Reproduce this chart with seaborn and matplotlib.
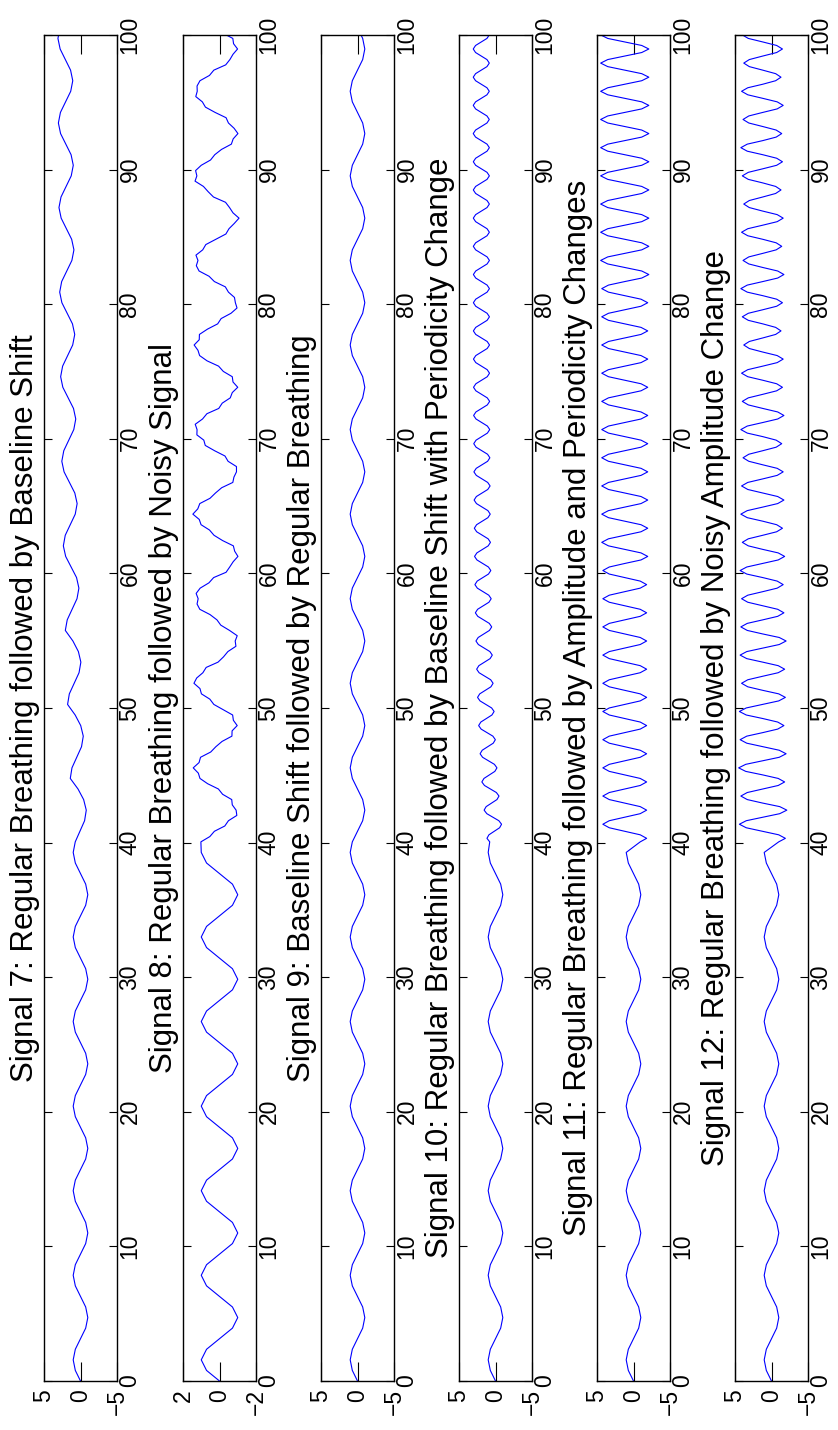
import numpy as np
import pandas as pd
import seaborn as sns
import matplotlib.pyplot as plt

# sample spacing of the readings (time units)
slow_step = 0.7854    # 8 readings per slow breath
noisy_step = 0.3927   # 16 readings per slow breath
fast_step = 0.2618    # 8 readings per fast breath
switch_t = 40.055     # where the second part of every signal starts

titles = [
    "Signal 7: Regular Breathing followed by Baseline Shift",
    "Signal 8: Regular Breathing followed by Noisy Signal",
    "Signal 9: Baseline Shift followed by Regular Breathing",
    "Signal 10: Regular Breathing followed by Baseline Shift with Periodicity Change",
    "Signal 11: Regular Breathing followed by Amplitude and Periodicity Changes",
    "Signal 12: Regular Breathing followed by Noisy Amplitude Change",
]
limits = [5, 2, 5, 5, 5, 5]
time_ticks = [0, 10, 20, 30, 40, 50, 60, 70, 80, 90, 100]

# first part (t = 0 .. 39.3), same for all six signals
regular = [
    0, 0.71, 1, 0.71, 0, -0.71, -1, -0.71,
    0, 0.71, 1, 0.71, 0, -0.71, -1, -0.71,
    0, 0.71, 1, 0.71, 0, -0.71, -1, -0.71,
    0, 0.71, 1, 0.71, 0, -0.71, -1, -0.71,
    0, 0.71, 1, 0.71, 0, -0.71, -1, -0.71,
    0, 0.71, 1, 0.71, 0, -0.71, -1, -0.71,
    0, 0.71, 1,
]

sig7_shift = [
    0.72, 0.08, -0.56, -0.79, -0.43, 0.34, 1.40, 1.17,
    0.52, -0.14, -0.38, -0.03, 0.73, 1.77, 1.53, 0.87,
    0.20, -0.05, 0.29, 1.04, 2.08, 1.82, 1.15, 0.48,
    0.22, 0.54, 1.29, 2.03, 2.35, 2.09, 1.41, 0.72,
    0.46, 0.78, 1.51, 2.25, 2.56, 2.29, 1.60, 0.92,
    0.65, 0.96, 1.69, 2.42, 2.72, 2.45, 1.76, 1.07,
    0.79, 1.10, 1.82, 2.55, 2.85, 2.58, 1.88, 1.18,
    0.90, 1.21, 1.93, 2.65, 2.95, 2.67, 1.97, 1.27,
    0.99, 1.29, 2.01, 2.73, 3.03, 2.75, 2.05, 1.34,
    1.06, 1.36, 2.08, 2.79, 3.09, 2.81,
]

sig8_noisy = [
    1.02, 0.53, 0.28, -0.29, -0.49, -0.95, -0.91, -0.70, -0.67, -0.17,
    0.06, 0.65, 1.07, 1.16, 1.44, 1.12, 1.04, 0.48,
    0.20, -0.14, -0.68, -0.69, -0.97, -0.76, -0.72, -0.20,
    0.31, 0.53, 0.99, 1.07, 1.40, 1.25, 0.91, 0.73,
    0.08, -0.22, -0.46, -0.90, -0.86, -0.97, -0.55, -0.07,
    0.14, 0.52, 1.08, 1.23, 1.17, 1.28, 1.06, 0.58,
    0.32, -0.36, -0.56, -0.75, -1.01, -0.83, -0.76, -0.17,
    0.30, 0.55, 1.01, 1.11, 1.46, 1.19, 1.08, 0.52,
    0.22, -0.12, -0.73, -0.79, -0.93, -0.93, -0.47, -0.30,
    0.27, 0.78, 0.86, 1.24, 1.23, 1.33, 0.93, 0.69,
    0.04, -0.15, -0.59, -0.70, -1.00, -0.74, -0.70, -0.21,
    0.05, 0.68, 1.09, 1.18, 1.39, 1.11, 1.10, 0.66,
    0.10, -0.09, -0.63, -0.96, -0.87, -0.82, -0.49, -0.32,
    0.28, 0.57, 1.12, 1.27, 1.18, 1.29, 0.92, 0.75,
    0.20, -0.35, -0.52, -0.81, -1.07, -0.74, -0.55, -0.33,
    0.33, 0.62, 0.88, 1.34, 1.24, 1.31, 1.00, 0.49,
    0.26, -0.11, -0.65, -0.75, -1.01, -0.80, -0.49, -0.36,
    0.24, 0.77, 0.94, 1.30, 1.22, 1.23, 1.07, 0.55,
    0.31, -0.34, -0.57, -0.74, -0.99, -0.77, -0.73, -0.18,
]

sig9_rest = [
    0.71, 0, -0.71, -1, -0.71, 0, 0.71, 1,
    0.71, 0, -0.71, -1, -0.71, 0, 0.71, 1,
    0.71, 0, -0.71, -1, -0.71, 0, 0.71, 1,
    0.71, 0, -0.71, -1, -0.71, 0, 0.71, 1,
    0.71, 0, -0.71, -1, -0.71, 0, 0.71, 1,
    0.71, 0, -0.71, -1, -0.71, 0, 0.71, 1,
    0.71, 0, -0.71, -1, -0.71, 0, 0.71, 1,
    0.71, 0, -0.71, -1, -0.71, 0, 0.71, 1,
    0.71, 0, -0.71, -1, -0.71, 0, 0.71, 1,
    0.71, 0, -0.71, -1, -0.71, 0,
]

sig10_fast = [
    0.79, 1.17, 0.90, 0.17, -0.56, -0.83, -0.46, 0.37,
    1.19, 1.56, 1.28, 0.54, -0.20, -0.48, -0.12, 0.70,
    1.51, 1.87, 1.58, 0.83, 0.09, -0.20, 0.15, 0.96,
    1.77, 2.11, 1.82, 1.07, 0.31, 0.02, 0.36, 1.16,
    1.97, 2.31, 2.01, 1.25, 0.49, 0.19, 0.53, 1.33,
    2.12, 2.46, 2.16, 1.40, 0.63, 0.33, 0.66, 1.46,
    2.25, 2.58, 2.28, 1.51, 0.74, 0.44, 0.77, 1.56,
    2.35, 2.68, 2.37, 1.60, 0.83, 0.52, 0.85, 1.64,
    2.43, 2.76, 2.45, 1.67, 0.90, 0.59, 0.92, 1.70,
    2.49, 2.82, 2.51, 1.73, 0.96, 0.64, 0.97, 1.76,
    2.54, 2.87, 2.55, 1.78, 1.00, 0.69, 1.01, 1.80,
    2.58, 2.90, 2.59, 1.81, 1.04, 0.72, 1.04, 1.83,
    2.61, 2.93, 2.62, 1.84, 1.06, 0.74, 1.07, 1.85,
    2.63, 2.96, 2.64, 1.86, 1.08, 0.77, 1.09, 1.87,
    2.66, 2.98, 2.66, 1.88, 1.11, 0.79, 1.11, 1.89,
    2.67, 3.00, 2.68, 1.90, 1.12, 0.80, 1.13, 1.91,
    2.69, 3.01, 2.69, 1.91, 1.13, 0.82, 1.14, 1.92,
    2.70, 3.02, 2.70, 1.92, 1.14, 0.82, 1.14, 1.92,
    2.71, 3.03, 2.71, 1.93, 1.15, 0.83, 1.15, 1.93,
    2.71, 3.03, 2.71, 1.93, 1.15, 0.83, 1.15, 1.93,
    2.71, 3.03, 2.71, 1.93, 1.15, 0.83, 1.15, 1.93,
    2.72, 3.04, 2.72, 1.94, 1.16, 0.84, 1.16, 1.94,
    2.72, 3.04, 2.72, 1.94, 1.16, 0.84, 1.16, 1.94,
    2.72, 3.04, 2.72, 1.94, 1.16, 0.84, 1.16, 1.94,
    2.72, 3.04, 2.72, 1.94, 1.16, 0.84, 1.16, 1.94,
    2.73, 3.05, 2.73, 1.95, 1.17, 0.85, 1.17, 1.95,
    2.73, 3.05, 2.73, 1.95, 1.17, 0.85, 1.17, 1.95,
    2.73, 3.05, 2.73, 1.95, 1.17, 0.85, 1.17, 1.95,
    2.73, 3.05, 2.73, 1.95, 1.17, 0.85,
]

sig11_fast = [
    -0.92, -1.80, -0.92, 1.20, 3.32, 4.20, 3.32, 1.20,
    -0.92, -1.80, -0.92, 1.20, 3.32, 4.20, 3.32, 1.20,
    -0.92, -1.80, -0.92, 1.20, 3.32, 4.20, 3.32, 1.20,
    -0.92, -1.80, -0.92, 1.20, 3.32, 4.20, 3.32, 1.20,
    -0.92, -1.80, -0.92, 1.20, 3.32, 4.20, 3.32, 1.20,
    -0.92, -1.80, -0.92, 1.20, 3.32, 4.20, 3.32, 1.20,
    -0.92, -1.80, -0.92, 1.20, 3.32, 4.20, 3.32, 1.20,
    -0.92, -1.80, -0.92, 1.20, 3.32, 4.20, 3.32, 1.20,
    -0.92, -1.80, -0.92, 1.20, 3.32, 4.20, 3.32, 1.20,
    -0.92, -1.80, -0.92, 1.20, 3.32, 4.20, 3.32, 1.20,
    -1.03, -1.95, -1.03, 1.20, 3.43, 4.35, 3.43, 1.20,
    -1.03, -1.95, -1.03, 1.20, 3.43, 4.35, 3.43, 1.20,
    -1.03, -1.95, -1.03, 1.20, 3.43, 4.35, 3.43, 1.20,
    -1.03, -1.95, -1.03, 1.20, 3.43, 4.35, 3.43, 1.20,
    -1.03, -1.95, -1.03, 1.20, 3.43, 4.35, 3.43, 1.20,
    -1.03, -1.95, -1.03, 1.20, 3.43, 4.35, 3.43, 1.20,
    -1.03, -1.95, -1.03, 1.20, 3.43, 4.35, 3.43, 1.20,
    -1.03, -1.95, -1.03, 1.20, 3.43, 4.35, 3.43, 1.20,
    -1.03, -1.95, -1.03, 1.20, 3.43, 4.35, 3.43, 1.20,
    -1.03, -1.95, -1.03, 1.20, 3.43, 4.35, 3.43, 1.20,
    -1.13, -2.10, -1.13, 1.20, 3.53, 4.50, 3.53, 1.20,
    -1.13, -2.10, -1.13, 1.20, 3.53, 4.50, 3.53, 1.20,
    -1.13, -2.10, -1.13, 1.20, 3.53, 4.50, 3.53, 1.20,
    -1.13, -2.10, -1.13, 1.20, 3.53, 4.50, 3.53, 1.20,
    -1.13, -2.10, -1.13, 1.20, 3.53, 4.50, 3.53, 1.20,
    -1.13, -2.10, -1.13, 1.20, 3.53, 4.50, 3.53, 1.20,
    -1.13, -2.10, -1.13, 1.20, 3.53, 4.50, 3.53, 1.20,
    -1.13, -2.10, -1.13, 1.20, 3.53, 4.50, 3.53, 1.20,
    -1.13, -2.10, -1.13, 1.20, 3.53, 4.50,
]

sig12_fast = [
    -0.99, -1.9, -0.99, 1.2, 3.46, 4.4, 3.46, 1.2,
    -1.13, -2.1, -1.13, 1.2, 3.32, 4.2, 3.32, 1.2,
    -0.92, -1.8, -0.92, 1.2, 3.53, 4.5, 3.53, 1.2,
    -1.06, -2.0, -1.06, 1.2, 3.39, 4.3, 3.39, 1.2,
    -0.85, -1.7, -0.85, 1.2, 3.46, 4.4, 3.46, 1.2,
    -0.99, -1.9, -0.99, 1.2, 3.25, 4.1, 3.25, 1.2,
    -0.92, -1.8, -0.92, 1.2, 3.39, 4.3, 3.39, 1.2,
    -1.06, -2.0, -1.06, 1.2, 3.32, 4.2, 3.32, 1.2,
    -0.85, -1.7, -0.85, 1.2, 3.25, 4.1, 3.25, 1.2,
    -0.78, -1.6, -0.78, 1.2, 3.39, 4.3, 3.39, 1.2,
    -0.92, -1.8, -0.92, 1.2, 3.18, 4.0, 3.18, 1.2,
    -0.71, -1.5, -0.71, 1.2, 3.32, 4.2, 3.32, 1.2,
    -0.85, -1.7, -0.85, 1.2, 3.25, 4.1, 3.25, 1.2,
    -0.78, -1.6, -0.78, 1.2, 3.11, 3.9, 3.11, 1.2,
    -0.64, -1.4, -0.64, 1.2, 3.32, 4.2, 3.32, 1.2,
    -0.85, -1.7, -0.85, 1.2, 3.18, 4.0, 3.18, 1.2,
    -0.71, -1.5, -0.71, 1.2, 3.25, 4.1, 3.25, 1.2,
    -0.78, -1.6, -0.78, 1.2, 3.04, 3.8, 3.04, 1.2,
    -0.57, -1.3, -0.57, 1.2, 3.18, 4.0, 3.18, 1.2,
    -0.71, -1.5, -0.71, 1.2, 3.32, 4.2, 3.32, 1.2,
    -0.85, -1.7, -0.85, 1.2, 3.11, 3.9, 3.11, 1.2,
    -0.64, -1.4, -0.64, 1.2, 3.25, 4.1, 3.25, 1.2,
    -0.78, -1.6, -0.78, 1.2, 3.04, 3.8, 3.04, 1.2,
    -0.57, -1.3, -0.57, 1.2, 3.18, 4.0, 3.18, 1.2,
    -0.71, -1.5, -0.71, 1.2, 3.32, 4.2, 3.32, 1.2,
    -0.64, -1.4, -0.64, 1.2, 3.11, 3.9, 3.11, 1.2,
    -0.78, -1.6, -0.78, 1.2, 3.25, 4.1, 3.25, 1.2,
    -0.57, -1.3, -0.57, 1.2, 3.04, 3.8, 3.04, 1.2,
    -0.71, -1.5, -0.71, 1.2, 3.18, 4.0,
]

# second part of each signal: (sample spacing, readings)
second = [
    (slow_step, sig7_shift),
    (noisy_step, sig8_noisy),
    (slow_step, sig9_rest),
    (fast_step, sig10_fast),
    (fast_step, sig11_fast),
    (fast_step, sig12_fast),
]


def signal_frame(step2, vals2):
    t = list(np.arange(len(regular)) * slow_step)
    t += list(switch_t + np.arange(len(vals2)) * step2)
    return pd.DataFrame({"t": t, "v": regular + vals2})


sns.set_style("white")
plt.rcParams['font.family'] = ['Liberation Sans', 'DejaVu Sans']
plt.rcParams['text.color'] = 'black'
plt.rcParams['xtick.color'] = 'black'
plt.rcParams['ytick.color'] = 'black'

W, H = 838, 1430
lefts = [44, 183, 321, 459, 597, 735]
top, bottom, aw = 35, 1381, 73

fig = plt.figure(figsize=(W / 100, H / 100), dpi=100)
for i in range(6):
    df = signal_frame(*second[i])
    ax = fig.add_axes([lefts[i] / W, 1 - bottom / H, aw / W, (bottom - top) / H])
    # time runs up the page, the signal value across it
    sns.lineplot(data=df, x="v", y="t", sort=False, estimator=None,
                 color="#0000ff", lw=0.8, ax=ax)
    lim = limits[i]
    ax.set_xlim(lim, -lim)
    ax.set_ylim(0, 100)
    ax.set_xticks([lim, 0, -lim])
    ax.set_yticks(time_ticks)
    ax.set_xlabel("")
    ax.set_ylabel("")
    ax.tick_params(axis="y", left=True, right=True, labelleft=False, labelright=True,
                   direction="in", length=6, width=0.8, labelrotation=90,
                   labelsize=16.5, pad=1, colors="black")
    ax.tick_params(axis="x", top=True, bottom=True, direction="in", length=14,
                   width=0.8, labelrotation=90, labelsize=16.5, pad=6, colors="black")
    plt.setp(ax.get_yticklabels(), va="center")
    for s in ax.spines.values():
        s.set_color("black")
        s.set_linewidth(1.0)
    ax.annotate(titles[i], xy=(0, 0.5), xycoords="axes fraction",
                xytext=(-3, 0), textcoords="offset points", color="black",
                rotation=90, ha="right", va="center", fontsize=22.5)

fig.savefig("out.png", dpi=100)
